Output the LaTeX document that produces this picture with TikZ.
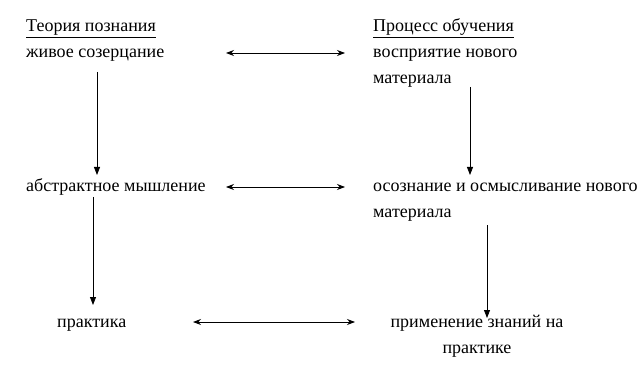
\documentclass[tikz,border=0pt]{standalone}
\usepackage{fontspec}
\setmainfont{Liberation Serif}
\usepackage{tikz}
\usetikzlibrary{arrows.meta}

\begin{document}
\begin{tikzpicture}[x=1pt, y=-1pt,
    lbl/.style={anchor=base west, inner sep=0pt, font=\fontsize{18}{22}\selectfont},
    harr/.style={line width=0.8pt, {Stealth[length=8pt,width=6pt]}-{Stealth[length=8pt,width=6pt]}},
    varr/.style={line width=0.8pt, -{Triangle[length=8pt,width=6pt]}}]
    \useasboundingbox (0,0) rectangle (642,366);
    % left column
    \node[lbl] (teoria) at (26,32) {\underline{Теория познания}};
    \node[lbl] (zhivoe) at (26,58) {живое созерцание};
    \node[lbl] (abstr) at (26,192) {абстрактное мышление};
    \node[lbl] (praktika) at (57,327) {практика};
    % right column
    \node[lbl] (process) at (373,32) {\underline{Процесс обучения}};
    \node[lbl] (vospr) at (373,58) {восприятие нового};
    \node[lbl] (vosprmat) at (373,84) {материала};
    \node[lbl] (osozn) at (373,192) {осознание и осмысливание нового};
    \node[lbl] (osoznmat) at (373,218) {материала};
    \node[lbl, anchor=base] (primen) at (477,327) {применение знаний на};
    \node[lbl, anchor=base] (primenprak) at (477,353) {практике};
    % connectors
    \draw[harr] ([shift={(200pt,5pt)}]zhivoe.base west) -- ([shift={(-28pt,5pt)}]vospr.base west);
    \draw[harr] ([shift={(200pt,5pt)}]abstr.base west) -- ([shift={(-28pt,5pt)}]osozn.base west);
    \draw[harr] ([shift={(136pt,5pt)}]praktika.base west) -- ([shift={(-122pt,5pt)}]primen.base);
    \draw[varr] ([shift={(71pt,-14pt)}]zhivoe.base west) -- ([shift={(71pt,17pt)}]abstr.base west);
    \draw[varr] ([shift={(67pt,-5pt)}]abstr.base west) -- ([shift={(36pt,22pt)}]praktika.base west);
    \draw[varr] ([shift={(97pt,-3pt)}]vosprmat.base west) -- ([shift={(97pt,17pt)}]osozn.base west);
    \draw[varr] ([shift={(114pt,-7pt)}]osoznmat.base west) -- ([shift={(10pt,9pt)}]primen.base);
\end{tikzpicture}
\end{document}
